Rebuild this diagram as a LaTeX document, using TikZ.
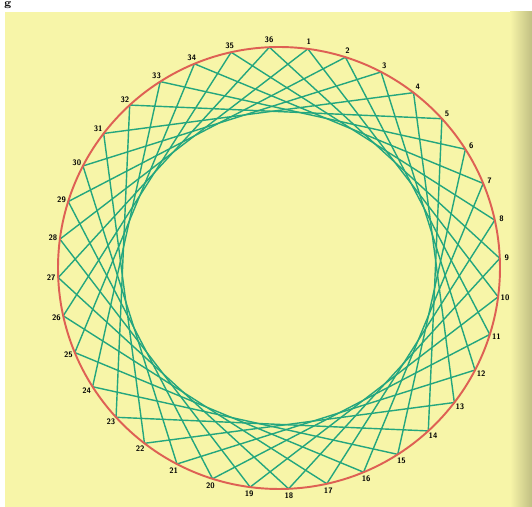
\documentclass[tikz,border=0pt]{standalone}
\usetikzlibrary{calc}
\definecolor{pagecolor}{RGB}{247,245,168}
\definecolor{ringcolor}{RGB}{222,96,84}
\definecolor{threadcolor}{RGB}{36,166,126}
\newcommand{\ringradius}{221}
\newcommand{\ringturn}{92.5}
\tikzset{
    stringart/.style={
        x=0.02cm, y=0.02cm,
        line cap=round, line join=round,
    },
    ring/.style={draw=ringcolor, line width=1.1pt},
    thread/.style={draw=threadcolor, line width=0.8pt},
    pinlabel/.style={font=\fontsize{4.5}{5}\selectfont\sffamily\bfseries, inner sep=0pt},
}

\begin{document}
\begin{tikzpicture}
        [stringart]
\useasboundingbox (0,0) rectangle (532,507);
% page
\fill[white] (0,0) rectangle (532,507);
\fill[pagecolor] (5,0) rectangle (532,495);
\shade[left color=pagecolor, right color=black!22!pagecolor] (510,0) rectangle (532,495);
\node[anchor=north west, inner sep=0.5pt, font=\fontsize{6}{6}\selectfont\bfseries] (corner) at (3,507) {g};
% pins
\coordinate (centre) at (279,239);
\foreach \k in {1,...,36}{
    \coordinate (p\k) at ($(centre)+({\ringturn-10*\k}:\ringradius)$);
}
% threads, every pin to the ninth after it
\foreach \k in {1,...,36}{
    \pgfmathtruncatemacro{\j}{mod(\k+8,36)+1}
    \draw[thread] (p\k) -- (p\j);
}
\draw[ring] (centre) circle (\ringradius);
\foreach \k in {1,...,36}{
    \node[pinlabel] (n\k) at ($(centre)+({\ringturn-10*\k}:\ringradius+7)$) {\k};
}
\end{tikzpicture}
\end{document}
